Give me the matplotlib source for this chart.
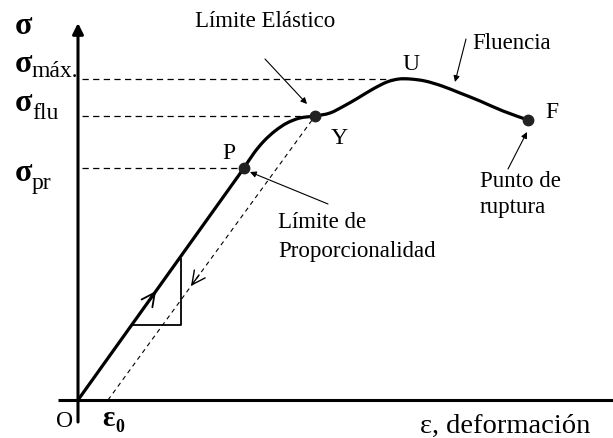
import matplotlib.pyplot as plt
from matplotlib.path import Path
from matplotlib.patches import PathPatch

plt.rcParams['font.family'] = ['Liberation Serif', 'DejaVu Serif']

# Stress-strain diagram, units are arbitrary (origin at O)
elastic_strain = [0, 166]
elastic_stress = [0, 232]

plastic_strain = [166, 176, 186, 197, 209, 222, 237, 252, 266, 280, 295, 309,
                  321, 332, 347, 364, 382, 402, 425, 450]
plastic_stress = [232, 247, 259, 269, 277, 282, 284, 287, 294, 302, 311, 318,
                  321, 321, 319, 314, 307, 299, 289, 280]

# named points
P = (166, 232)
Y = (237, 284)
U = (330, 321)
F = (450, 280)
eps0 = 30

sigma_levels = [321, 284, 232]
sigma_ends = [U[0], Y[0], P[0]]
sigma_subs = ['máx.', 'flu', 'pr']

# small triangle on the elastic line (slope indicator)
tri_x = [55, 103, 103]
tri_y = [75, 75, 141]


def smooth_path(xs, ys):
    # draw the read points with cubic bezier segments (catmull-rom handles)
    pts = list(zip(xs, ys))
    verts = [pts[0]]
    codes = [Path.MOVETO]
    n = len(pts)
    for i in range(n - 1):
        p0 = pts[i - 1] if i > 0 else pts[i]
        p1 = pts[i]
        p2 = pts[i + 1]
        p3 = pts[i + 2] if i + 2 < n else pts[i + 1]
        c1 = (p1[0] + (p2[0] - p0[0]) / 6, p1[1] + (p2[1] - p0[1]) / 6)
        c2 = (p2[0] - (p3[0] - p1[0]) / 6, p2[1] - (p3[1] - p1[1]) / 6)
        verts += [c1, c2, p2]
        codes += [Path.CURVE4] * 3
    return Path(verts, codes)


fig = plt.figure(figsize=(6.13, 4.39), dpi=100)
ax = fig.add_axes([0, 0, 1, 1])
ax.set_xlim(-78, 535)
ax.set_ylim(-38, 401)
ax.axis('off')

# axes
ax.plot([-20, 535], [0, 0], color='black', lw=2.2, solid_capstyle='butt')
ax.annotate('', xy=(0, 377), xytext=(0, -22),
            arrowprops=dict(arrowstyle='-|>', color='black', lw=2.2,
                            mutation_scale=16, shrinkA=0, shrinkB=0))

# dashed reference lines
for lev, xe in zip(sigma_levels, sigma_ends):
    ax.plot([4, xe], [lev, lev], color='black', lw=0.9, ls=(0, (5, 3.5)))

# unloading line
ax.plot([eps0, Y[0]], [0, Y[1]], color='black', lw=0.8, ls=(0, (4, 3.5)))

# curve
ax.plot(elastic_strain, elastic_stress, color='black', lw=2.3, solid_capstyle='round')
ax.add_patch(PathPatch(smooth_path(plastic_strain, plastic_stress), facecolor='none',
                       edgecolor='black', lw=2.3, capstyle='round', joinstyle='round'))
ax.plot([P[0], Y[0], F[0]], [P[1], Y[1], F[1]], 'o', color='#222222', ms=7.5)

ax.plot(tri_x, tri_y, color='black', lw=1.3)

# direction arrows
ax.annotate('', xy=(78, 109), xytext=(70, 98),
            arrowprops=dict(arrowstyle='->', color='black', lw=1.3,
                            mutation_scale=24, shrinkA=0, shrinkB=0))
ax.annotate('', xy=(113, 114), xytext=(121, 125),
            arrowprops=dict(arrowstyle='->', color='black', lw=1.0,
                            mutation_scale=24, shrinkA=0, shrinkB=0))

# sigma labels
ax.text(-54, 367, 'σ', fontsize=23, fontweight='bold', ha='center', va='baseline')
sigma_pos = [329, 290, 220]
sub_base = [324, 282, 212]
for yb, ys, s in zip(sigma_pos, sub_base, sigma_subs):
    ax.text(-54, yb, 'σ', fontsize=23, fontweight='bold', ha='center', va='baseline')
    ax.text(-46, ys, s, fontsize=17, ha='left', va='baseline')

# point labels
ax.text(151, 242, 'P', fontsize=17, ha='center', va='baseline')
ax.text(261, 257, 'Y', fontsize=17, ha='center', va='baseline')
ax.text(333, 331, 'U', fontsize=17, ha='center', va='baseline')
ax.text(474, 283, 'F', fontsize=17, ha='center', va='baseline')
ax.text(-13, -26, 'O', fontsize=17, ha='center', va='baseline')
ax.text(24, -25, 'ε', fontsize=21, fontweight='bold', ha='left', va='baseline')
ax.text(37, -31, '0', fontsize=13, fontweight='bold', ha='left', va='baseline')
ax.text(342, -32, 'ε, deformación', fontsize=20.5, ha='left', va='baseline')

# annotations
arrow_kw = dict(arrowstyle='-|>', color='black', lw=0.8, mutation_scale=9,
                shrinkA=0, shrinkB=0)
ax.text(117, 374, 'Límite Elástico', fontsize=16.5, ha='left', va='baseline')
ax.annotate('', xy=(229, 296), xytext=(187, 341), arrowprops=arrow_kw)
ax.text(394, 352, 'Fluencia', fontsize=16.5, ha='left', va='baseline')
ax.annotate('', xy=(377, 318), xytext=(388, 361), arrowprops=arrow_kw)
ax.text(402, 214, 'Punto de', fontsize=16.5, ha='left', va='baseline')
ax.text(402, 188, 'ruptura', fontsize=16.5, ha='left', va='baseline')
ax.annotate('', xy=(449, 268), xytext=(430, 231), arrowprops=arrow_kw)
ax.text(200, 173, 'Límite de', fontsize=16.5, ha='left', va='baseline')
ax.text(200, 144, 'Proporcionalidad', fontsize=16.5, ha='left', va='baseline')
ax.annotate('', xy=(172, 228), xytext=(250, 196), arrowprops=arrow_kw)

fig.savefig('out.png', dpi=100)
